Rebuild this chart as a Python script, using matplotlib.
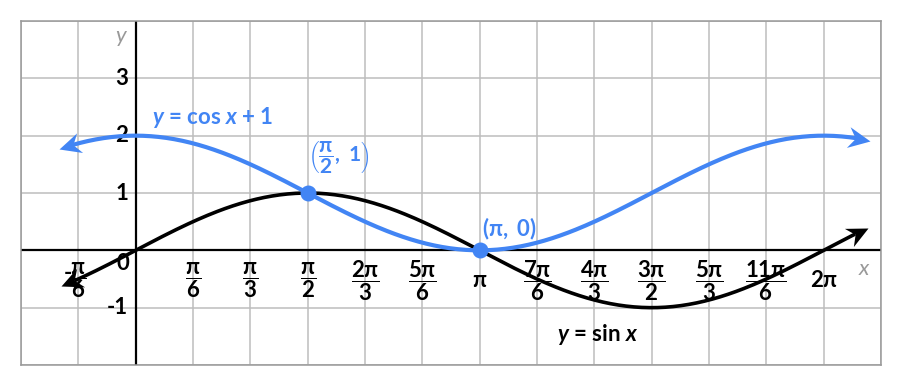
import numpy as np
import matplotlib.pyplot as plt
from matplotlib.path import Path

plt.rcParams['font.family'] = ['Lato', 'DejaVu Sans']
plt.rcParams['mathtext.fontset'] = 'custom'
plt.rcParams['mathtext.rm'] = 'Lato:bold'
plt.rcParams['mathtext.it'] = 'Lato:italic:bold'
plt.rcParams['mathtext.bf'] = 'Lato:bold'
plt.rcParams['mathtext.default'] = 'regular'

BLUE = '#4285f4'

# window in units of pi/6 (x) and plain units (y)
x_min, x_max = -2, 13
y_min, y_max = -2, 4

# ends of the drawn curves (radians)
sin_start, sin_end = -0.68, 6.69
cos_start, cos_end = -0.70, 6.71

# x tick labels at multiples of pi/6
x_label_steps = [-1, 1, 2, 3, 4, 5, 6, 7, 8, 9, 10, 11, 12]
x_labels = [r'$\dfrac{\pi}{6}$', r'$\dfrac{\pi}{6}$', r'$\dfrac{\pi}{3}$', r'$\dfrac{\pi}{2}$',
            r'$\dfrac{2\pi}{3}$', r'$\dfrac{5\pi}{6}$', r'$\pi$', r'$\dfrac{7\pi}{6}$',
            r'$\dfrac{4\pi}{3}$', r'$\dfrac{3\pi}{2}$', r'$\dfrac{5\pi}{3}$',
            r'$\dfrac{11\pi}{6}$', r'$2\pi$']
y_label_vals = [3, 2, 1, -1]

# marked points on y = cos x + 1
pts_x = [np.pi / 2, np.pi]
pts_y = [1, 0]
pts_labels = [r'$\left(\dfrac{\pi}{2},\ 1\right)$', r'$(\pi,\ 0)$']
pts_label_pos = [(1.57, 1.62), (3.16, 0.38)]
pts_label_size = [15, 16]

fig = plt.figure(figsize=(9, 3.85), dpi=100)
ax = fig.add_axes([21 / 900, 20 / 385, 860 / 900, 344 / 385])
ax.set_xlim(x_min * np.pi / 6, x_max * np.pi / 6)
ax.set_ylim(y_min, y_max)
ax.set_xticks(np.arange(x_min, x_max + 1) * np.pi / 6)
ax.set_yticks(np.arange(y_min, y_max + 1))
ax.grid(True, color='#bdbdbd', lw=1.1)
ax.tick_params(length=0, labelbottom=False, labelleft=False)
for s in ax.spines.values():
    s.set_color('#999999')
    s.set_linewidth(1.1)

ax.axhline(0, color='black', lw=1.6, zorder=2)
ax.axvline(0, color='black', lw=1.6, zorder=2)


def arrow_head(f, x_end, x_prev, color, z):
    # notched head, tip at the curve end, pointing along the curve on screen
    p1 = ax.transData.transform((x_prev, f(x_prev)))
    p2 = ax.transData.transform((x_end, f(x_end)))
    ang = np.arctan2(p2[1] - p1[1], p2[0] - p1[0])
    base = np.array([(0, 0), (-2, 0.95), (-1.35, 0), (-2, -0.95), (0, 0)])
    rot = np.array([[np.cos(ang), -np.sin(ang)], [np.sin(ang), np.cos(ang)]])
    verts = base @ rot.T
    codes = [Path.MOVETO, Path.LINETO, Path.LINETO, Path.LINETO, Path.CLOSEPOLY]
    ax.plot([x_end], [f(x_end)], marker=Path(verts, codes), markersize=34,
            color=color, markeredgewidth=0, zorder=z)


def f_sin(x):
    return np.sin(x)


def f_cos(x):
    return np.cos(x) + 1


# curves
xs = np.linspace(sin_start + 0.12, sin_end - 0.12, 400)
ax.plot(xs, f_sin(xs), color='black', lw=2.6, zorder=3, solid_capstyle='butt')
xc = np.linspace(cos_start + 0.12, cos_end - 0.12, 400)
ax.plot(xc, f_cos(xc), color=BLUE, lw=3, zorder=4, solid_capstyle='butt')

arrow_head(f_sin, sin_start, sin_start + 0.15, 'black', 3)
arrow_head(f_sin, sin_end, sin_end - 0.15, 'black', 3)
arrow_head(f_cos, cos_start, cos_start + 0.15, BLUE, 4)
arrow_head(f_cos, cos_end, cos_end - 0.15, BLUE, 4)

ax.scatter(pts_x, pts_y, s=110, color=BLUE, zorder=5)
for lab, (lx, ly), fs in zip(pts_labels, pts_label_pos, pts_label_size):
    ax.text(lx, ly, lab, color=BLUE, fontsize=fs, fontweight='bold', ha='left', va='center', zorder=6)

# tick labels
for k, lab in zip(x_label_steps, x_labels):
    ax.text(k * np.pi / 6, -0.52, lab, fontsize=16, fontweight='bold', ha='center', va='center', zorder=3.5)
# minus sign of -pi/6 sits up-left of the fraction
ax.text(-0.62, -0.40, '-', fontsize=16, fontweight='bold', ha='center', va='center', zorder=3.5)
ax.text(-0.12, -0.23, '0', fontsize=16, fontweight='bold', ha='center', va='center')
for v in y_label_vals:
    ax.text(-0.07, v, str(v), fontsize=16, fontweight='bold', ha='right', va='center')

ax.text(-0.14, 3.73, 'y', fontsize=16, style='italic', color='#999999', ha='center', va='center')
ax.text(6.65, -0.33, 'x', fontsize=16, style='italic', color='#999999', ha='center', va='center')

ax.text(0.15, 2.32, r'$\mathit{y}$ = cos $\mathit{x}$ + 1', color=BLUE, fontsize=16,
        fontweight='bold', ha='left', va='center')
ax.text(3.85, -1.46, r'$\mathit{y}$ = sin $\mathit{x}$', color='black', fontsize=16,
        fontweight='bold', ha='left', va='center')

fig.savefig('out.png', dpi=100)
